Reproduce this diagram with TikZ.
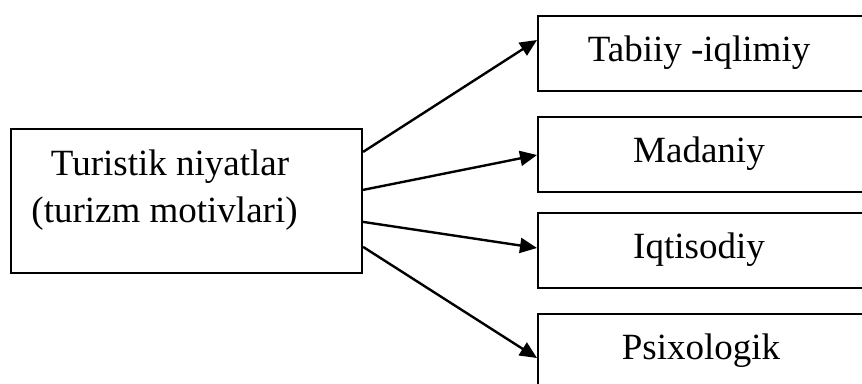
\documentclass[tikz,border=0pt]{standalone}
\usepackage{fontspec}
\setmainfont{Liberation Serif}
\usetikzlibrary{arrows.meta}
\begin{document}
\begin{tikzpicture}[x=1pt,y=-1pt,
  box/.style={draw,line width=2.2pt,rectangle,inner sep=0pt,fill=white},
  lbl/.style={font=\fontsize{37}{42}\selectfont,inner sep=0pt,text height=26pt,text depth=8pt},
  arr/.style={line width=2.4pt,-{Triangle[length=17pt,width=15pt]}}]
\clip (0,0) rectangle (862,383);
\fill[white] (0,0) rectangle (862,383);
% left box
\node[box,minimum width=351pt,minimum height=144pt] (left) at (186.5,201) {};
\node[lbl,anchor=base] (lt1) at (170,175) {Turistik niyatlar};
\node[lbl,anchor=base] (lt2) at (164.5,222) {(turizm motivlari)};
% right boxes
\node[box,minimum width=340pt,minimum height=75pt,anchor=north west] (t1) at (537,15) {};
\node[box,minimum width=340pt,minimum height=75pt,anchor=north west] (t2) at (537,116) {};
\node[box,minimum width=340pt,minimum height=75pt,anchor=north west] (t3) at (537,212) {};
\node[box,minimum width=340pt,minimum height=75pt,anchor=north west] (t4) at (537,313) {};
\node[lbl] (l1) at (699,52.5) {Tabiiy -iqlimiy};
\node[lbl] (l2) at (699,153.5) {Madaniy};
\node[lbl] (l3) at (699,249.5) {Iqtisodiy};
\node[lbl] (l4) at (701,350) {Psixologik};
% arrows
\draw[arr] ([yshift=-24pt]left.north east) -- ([yshift=-25pt]t1.north west);
\draw[arr] ([yshift=-62pt]left.north east) -- ([yshift=-39pt]t2.north west);
\draw[arr] ([yshift=-94pt]left.north east) -- ([yshift=-36pt]t3.north west);
\draw[arr] ([yshift=-119pt]left.north east) -- ([yshift=-45pt]t4.north west);
\end{tikzpicture}
\end{document}
